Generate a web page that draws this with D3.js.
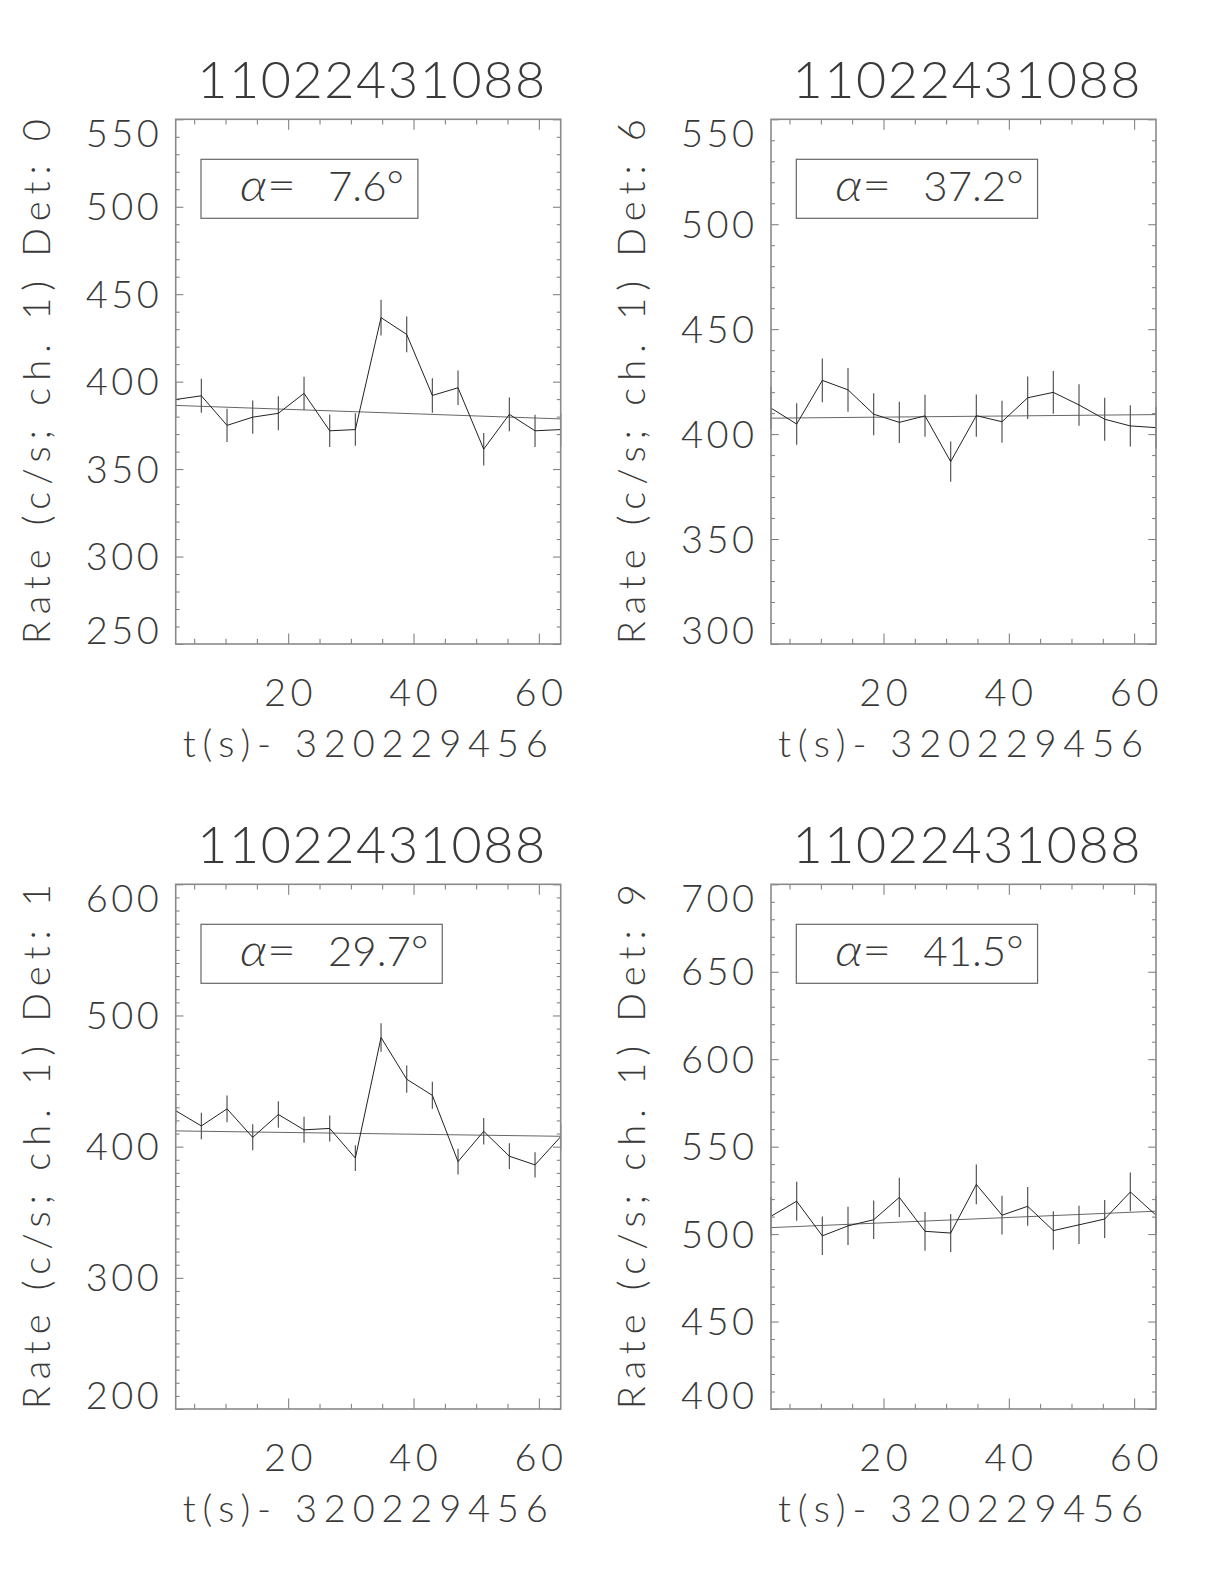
<!DOCTYPE html>
<html><head><meta charset="utf-8">
<script src="https://cdn.jsdelivr.net/npm/d3@7"></script>
<style>
html,body{margin:0;padding:0;background:#fff;}
svg text{font-family:"Lato","DejaVu Sans",sans-serif;font-weight:300;fill:#3a3a3a;}
</style></head><body>
<svg id="c" width="1224" height="1584"></svg>
<script>
// ---------------- data ----------------
const timeBins = [2.048, 6.144, 10.24, 14.336, 18.432, 22.528, 26.624, 30.72, 34.816, 38.912, 43.008, 47.104, 51.2, 55.296, 59.392, 63.488];
const xRange = [2.048, 63.488];
const panelTitles = ["11022431088", "11022431088", "11022431088", "11022431088"];
const detectors = [0, 6, 1, 9];
const alphaDeg = ["7.6", "37.2", "29.7", "41.5"];
const xTitle = "t(s)- 320229456";

const rateDet0 = [389.8, 391.9, 375.0, 379.7, 381.9, 393.3, 371.9, 372.6, 436.6, 427.0, 392.1, 396.5, 361.4, 381.3, 371.9, 372.6];
const errDet0  = [9.8, 9.7, 9.5, 9.5, 9.7, 9.5, 9.3, 9.3, 10.2, 10.2, 9.9, 9.9, 9.3, 9.7, 9.2, 9.5];
const fitDet0  = [386.4, 378.7];

const rateDet6 = [412.4, 404.8, 425.6, 421.1, 409.5, 405.6, 408.7, 386.9, 408.8, 405.9, 417.3, 419.9, 413.9, 407.1, 403.9, 403.1];
const errDet6  = [10.0, 9.9, 10.4, 10.4, 10.0, 9.8, 10.0, 9.6, 10.1, 10.0, 10.1, 10.2, 9.9, 10.2, 9.8, 9.9];
const fitDet6  = [407.6, 409.3];

const rateDet1 = [427.4, 415.8, 428.8, 407.1, 424.5, 412.8, 413.9, 391.3, 483.2, 451.4, 439.1, 388.6, 411.7, 392.7, 386.1, 407.6];
const errDet1  = [10.2, 10.1, 10.2, 9.9, 10.1, 9.9, 9.9, 9.8, 10.9, 10.4, 10.3, 9.8, 10.1, 9.8, 9.7, 10.0];
const fitDet1  = [412.0, 407.9];

const rateDet9 = [510.2, 518.8, 499.0, 504.7, 508.2, 521.0, 501.6, 500.6, 528.4, 510.8, 515.9, 502.0, 505.3, 508.6, 524.1, 510.8];
const errDet9  = [11.2, 11.2, 11.0, 10.9, 11.0, 11.2, 11.1, 10.9, 11.4, 11.1, 11.1, 11.0, 10.9, 10.9, 11.1, 11.2];
const fitDet9  = [503.7, 513.1];

const yDomains = [[250, 550], [300, 550], [200, 600], [400, 700]];
const yTickLabels = [
  [250, 300, 350, 400, 450, 500, 550],
  [300, 350, 400, 450, 500, 550],
  [200, 300, 400, 500, 600],
  [400, 450, 500, 550, 600, 650, 700]
];
const yMinorStep = [10, 10, 10, 10];
const xTickLabels = [20, 40, 60];
const xMinorTicks = [5, 10, 15, 25, 30, 35, 45, 50, 55];

// ---------------- layout ----------------
const colX = [175.7, 771];
const rowY = [119.3, 884.3];
const W = 385, H = 524.7;
const cells = [[0, 0], [1, 0], [0, 1], [1, 1]];
const rates = [rateDet0, rateDet6, rateDet1, rateDet9];
const errs = [errDet0, errDet6, errDet1, errDet9];
const fits = [fitDet0, fitDet6, fitDet1, fitDet9];

const svg = d3.select("#c");
const LBL = 38, CAP = 27.3, DIGW = 24.3;

cells.forEach(([c, r], i) => {
  const L = colX[c], T = rowY[r];
  const g = svg.append("g");
  const x = d3.scaleLinear().domain(xRange).range([L, L + W]);
  const y = d3.scaleLinear().domain(yDomains[i]).range([T + H, T]);

  const tickStyle = s => s.call(a => a.select(".domain").remove())
    .selectAll("line").attr("stroke", "#777").attr("stroke-width", 1);
  const xMaj = 10.5, xMin = 5.2, yMaj = 7.7, yMin = 3.9;
  g.append("g").attr("transform", `translate(0,${T + H})`)
    .call(d3.axisBottom(x).tickValues(xTickLabels).tickSize(-xMaj).tickFormat("")).call(tickStyle);
  g.append("g").attr("transform", `translate(0,${T + H})`)
    .call(d3.axisBottom(x).tickValues(xMinorTicks).tickSize(-xMin).tickFormat("")).call(tickStyle);
  g.append("g").attr("transform", `translate(0,${T})`)
    .call(d3.axisTop(x).tickValues(xTickLabels).tickSize(-xMaj).tickFormat("")).call(tickStyle);
  g.append("g").attr("transform", `translate(0,${T})`)
    .call(d3.axisTop(x).tickValues(xMinorTicks).tickSize(-xMin).tickFormat("")).call(tickStyle);
  const [y0, y1] = yDomains[i];
  const minors = d3.range(y0, y1 + 0.001, yMinorStep[i]).filter(v => !yTickLabels[i].includes(v));
  g.append("g").attr("transform", `translate(${L},0)`)
    .call(d3.axisLeft(y).tickValues(yTickLabels[i]).tickSize(-yMaj).tickFormat("")).call(tickStyle);
  g.append("g").attr("transform", `translate(${L},0)`)
    .call(d3.axisLeft(y).tickValues(minors).tickSize(-yMin).tickFormat("")).call(tickStyle);
  g.append("g").attr("transform", `translate(${L + W},0)`)
    .call(d3.axisRight(y).tickValues(yTickLabels[i]).tickSize(-yMaj).tickFormat("")).call(tickStyle);
  g.append("g").attr("transform", `translate(${L + W},0)`)
    .call(d3.axisRight(y).tickValues(minors).tickSize(-yMin).tickFormat("")).call(tickStyle);

  // fit line
  g.append("line")
    .attr("x1", x(xRange[0])).attr("x2", x(xRange[1]))
    .attr("y1", y(fits[i][0])).attr("y2", y(fits[i][1]))
    .attr("stroke", "#666").attr("stroke-width", 1);

  // error bars
  g.selectAll(".eb").data(timeBins).enter().append("line")
    .attr("x1", d => x(d)).attr("x2", d => x(d))
    .attr("y1", (d, k) => y(rates[i][k] - errs[i][k]))
    .attr("y2", (d, k) => y(rates[i][k] + errs[i][k]))
    .attr("stroke", "#555").attr("stroke-width", 1.2);

  // data line
  g.append("path")
    .datum(timeBins.map((t, k) => [t, rates[i][k]]))
    .attr("d", d3.line().x(d => x(d[0])).y(d => y(d[1])))
    .attr("fill", "none").attr("stroke", "#222").attr("stroke-width", 1);

  // frame
  g.append("rect").attr("x", L).attr("y", T).attr("width", W).attr("height", H)
    .attr("fill", "none").attr("stroke", "#8a8a8a").attr("stroke-width", 1.6);

  // y tick labels
  g.selectAll(".yl").data(yTickLabels[i]).enter().append("text")
    .attr("x", L - 17)
    .attr("y", v => Math.min(Math.max(y(v), T + CAP / 2), T + H - CAP / 2) + CAP / 2)
    .attr("text-anchor", "end").attr("font-size", LBL)
    .attr("textLength", v => String(v).length * DIGW).attr("lengthAdjust", "spacing")
    .text(v => v);

  // x tick labels
  g.selectAll(".xl").data(xTickLabels).enter().append("text")
    .attr("x", v => x(v)).attr("y", T + H + 62)
    .attr("text-anchor", "middle").attr("font-size", LBL)
    .attr("textLength", v => String(v).length * DIGW).attr("lengthAdjust", "spacing")
    .text(v => v);

  // x title
  g.append("text").attr("x", L + W / 2 - 3).attr("y", T + H + 113)
    .attr("text-anchor", "middle").attr("font-size", LBL)
    .attr("textLength", 365).attr("lengthAdjust", "spacing")
    .text(xTitle);

  // y title
  g.append("text")
    .attr("transform", `translate(${L - 141},${T + H / 2}) rotate(-90)`)
    .attr("text-anchor", "middle").attr("dominant-baseline", "central")
    .attr("font-size", LBL)
    .attr("textLength", 525).attr("lengthAdjust", "spacing")
    .text(`Rate (c/s; ch. 1) Det: ${detectors[i]}`);

  // title
  g.append("text").attr("x", L + W / 2 + 3).attr("y", T - 21)
    .attr("text-anchor", "middle").attr("font-size", 52)
    .attr("textLength", 348).attr("lengthAdjust", "spacing")
    .text(panelTitles[i]);

  // alpha box
  const bx = L + 25.3, by = T + 40;
  const box = g.append("rect").attr("x", bx).attr("y", by).attr("height", 59)
    .attr("fill", "#fff").attr("stroke", "#666").attr("stroke-width", 1.2);
  const a = g.append("text").attr("x", bx + 39).attr("y", T + 82).attr("font-size", 44)
    .attr("textLength", 56).attr("lengthAdjust", "spacingAndGlyphs");
  a.append("tspan").attr("font-style", "italic").text("α");
  a.append("tspan").text("=");
  const num = g.append("text").attr("x", bx + 127).attr("y", T + 82).attr("font-size", 42)
    .text(alphaDeg[i] + "°");
  const bb = num.node().getBBox();
  box.attr("width", bb.x + bb.width - bx + 14);
});
</script>
</body></html>
